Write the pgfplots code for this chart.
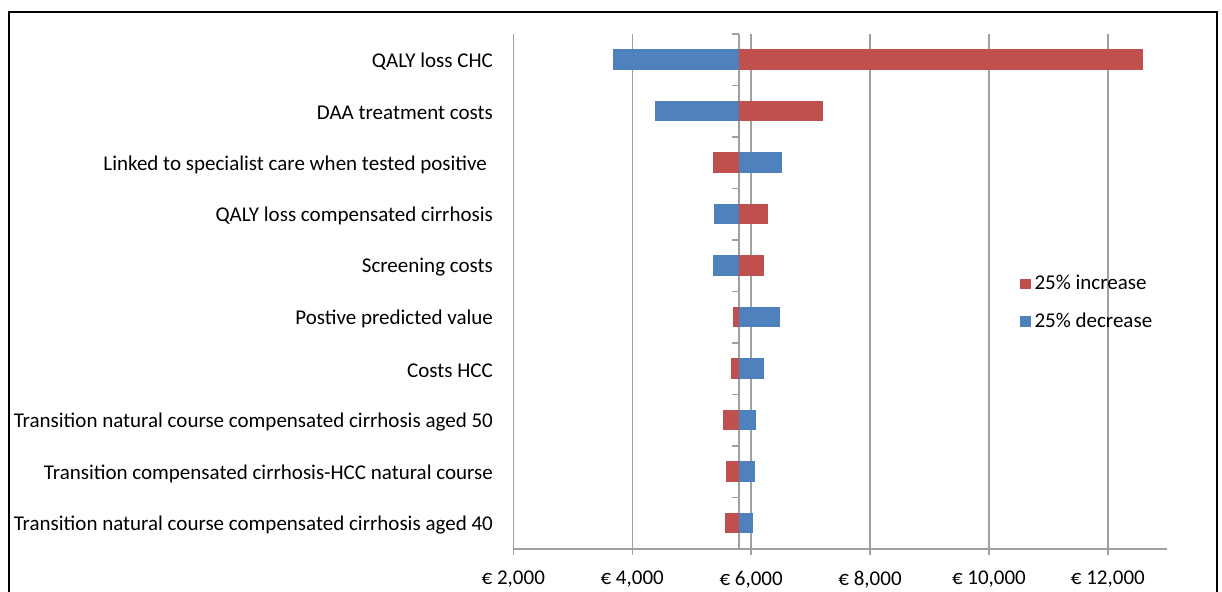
\documentclass[border=0pt]{standalone}
\usepackage{pgfplots}
\pgfplotsset{compat=1.18}
\usepackage{fontspec}
\setmainfont{Carlito}
\definecolor{bred}{RGB}{192,80,77}
\definecolor{bblue}{RGB}{79,129,189}
\definecolor{gridc}{RGB}{160,160,160}
\begin{document}
\fontsize{10.5pt}{12.6pt}\selectfont
\begin{tikzpicture}
\useasboundingbox (-256.65pt,-21.1pt) rectangle (354.35pt,274.4pt);
\draw[line width=1.1pt] (-252.15pt,-40pt) -- (-252.15pt,268.4pt) -- (351.85pt,268.4pt) -- (351.85pt,-40pt);
\begin{axis}[
  at={(0,0)}, anchor=south west, scale only axis,
  width=327pt, height=257.5pt,
  xmin=2000, xmax=13000, ymin=0.5, ymax=10.5, y dir=reverse,
  axis lines*=left,
  y axis line style={draw=none},
  x axis line style={gridc, line width=0.7pt},
  xtick={2000,4000,6000,8000,10000,12000},
  xticklabels={{€ 2,000},{€ 4,000},{€ 6,000},{€ 8,000},{€ 10,000},{€ 12,000}},
  ytick={1,2,3,4,5,6,7,8,9,10},
  yticklabels={QALY loss CHC, DAA treatment costs, Linked to specialist care when tested positive\kern3pt, QALY loss compensated cirrhosis, Screening costs, Postive predicted value, Costs HCC, Transition natural course compensated cirrhosis aged 50, Transition compensated cirrhosis-HCC natural course, Transition natural course compensated cirrhosis aged 40},
  xmajorgrids,
  grid style={gridc, line width=0.7pt},
  tick align=outside, major tick length=3pt,
  xtick style={gridc, line width=0.7pt},
  ytick style={draw=none},
  yticklabel style={xshift=-3.5pt, yshift=-1pt},
  xticklabel style={yshift=-4.5pt},
  legend style={at={(axis description cs:0.7744,0.54)}, anchor=north west, draw=none, fill=none, inner sep=0pt, row sep=6pt, legend cell align=left},
  legend image code/.code={\fill[#1] (0pt,-2.4pt) rectangle (4.8pt,2.4pt);},
]
% baseline axis line
\addplot[gridc, line width=0.7pt, forget plot] coordinates {(5795,0.5) (5795,10.5)};
\pgfplotsinvokeforeach{0.5,1.5,2.5,3.5,4.5,5.5,6.5,7.5,8.5,9.5}{
  \draw[gridc, line width=0.7pt] (axis cs:5795,#1) -- ++(-3.5pt,0pt);
}
\addlegendimage{bred}
\addlegendentry{25\% increase}
\addlegendimage{bblue}
\addlegendentry{25\% decrease}
% 25% decrease (blue)
\addplot[bblue, line width=10.2pt, forget plot] coordinates {(5795,1) (3684,1)};
\addplot[bblue, line width=10.2pt, forget plot] coordinates {(5795,2) (4387,2)};
\addplot[bblue, line width=10.2pt, forget plot] coordinates {(5795,3) (6519,3)};
\addplot[bblue, line width=10.2pt, forget plot] coordinates {(5795,4) (5381,4)};
\addplot[bblue, line width=10.2pt, forget plot] coordinates {(5795,5) (5366,5)};
\addplot[bblue, line width=10.2pt, forget plot] coordinates {(5795,6) (6481,6)};
\addplot[bblue, line width=10.2pt, forget plot] coordinates {(5795,7) (6220,7)};
\addplot[bblue, line width=10.2pt, forget plot] coordinates {(5795,8) (6084,8)};
\addplot[bblue, line width=10.2pt, forget plot] coordinates {(5795,9) (6062,9)};
\addplot[bblue, line width=10.2pt, forget plot] coordinates {(5795,10) (6032,10)};
% 25% increase (red)
\addplot[bred, line width=10.2pt, forget plot] coordinates {(5795,1) (12585,1)};
\addplot[bred, line width=10.2pt, forget plot] coordinates {(5795,2) (7213,2)};
\addplot[bred, line width=10.2pt, forget plot] coordinates {(5795,3) (5366,3)};
\addplot[bred, line width=10.2pt, forget plot] coordinates {(5795,4) (6288,4)};
\addplot[bred, line width=10.2pt, forget plot] coordinates {(5795,5) (6220,5)};
\addplot[bred, line width=10.2pt, forget plot] coordinates {(5795,6) (5696,6)};
\addplot[bred, line width=10.2pt, forget plot] coordinates {(5795,7) (5666,7)};
\addplot[bred, line width=10.2pt, forget plot] coordinates {(5795,8) (5531,8)};
\addplot[bred, line width=10.2pt, forget plot] coordinates {(5795,9) (5577,9)};
\addplot[bred, line width=10.2pt, forget plot] coordinates {(5795,10) (5561,10)};
\end{axis}
\end{tikzpicture}
\end{document}
